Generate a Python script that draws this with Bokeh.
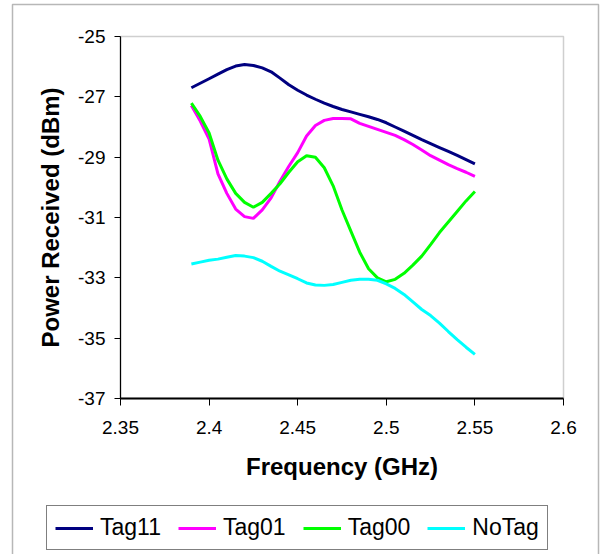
from bokeh.plotting import figure
from bokeh.models import (FixedTicker, CustomJSTickFormatter, Legend, LegendItem,
                          BoxAnnotation, Range1d)
from bokeh.embed import file_html
from bokeh.resources import INLINE

freq = [2.39, 2.395, 2.40, 2.405, 2.41, 2.415, 2.42, 2.425, 2.43, 2.435, 2.44,
        2.445, 2.45, 2.455, 2.46, 2.465, 2.47, 2.475, 2.48, 2.485, 2.49, 2.495,
        2.50, 2.505, 2.51, 2.515, 2.52, 2.525, 2.53, 2.535, 2.54, 2.545, 2.55]

tag11 = [-26.70, -26.55, -26.40, -26.25, -26.10, -25.98, -25.93, -25.96, -26.04,
         -26.17, -26.38, -26.60, -26.78, -26.94, -27.08, -27.21, -27.32, -27.42,
         -27.50, -27.58, -27.66, -27.75, -27.86, -28.00, -28.14, -28.28, -28.42,
         -28.55, -28.68, -28.81, -28.94, -29.08, -29.22]

tag01 = [-27.29, -27.80, -28.40, -29.55, -30.20, -30.72, -30.97, -31.03, -30.75,
         -30.35, -29.80, -29.30, -28.85, -28.30, -27.95, -27.78, -27.72, -27.72,
         -27.73, -27.88, -27.98, -28.08, -28.18, -28.28, -28.42, -28.58, -28.76,
         -28.95, -29.10, -29.25, -29.38, -29.50, -29.64]

tag00 = [-27.21, -27.65, -28.20, -29.10, -29.72, -30.20, -30.50, -30.66, -30.50,
         -30.20, -29.88, -29.50, -29.15, -28.95, -29.00, -29.35, -29.95, -30.75,
         -31.45, -32.15, -32.70, -33.00, -33.13, -33.05, -32.85, -32.58, -32.28,
         -31.90, -31.50, -31.15, -30.80, -30.45, -30.14]

notag = [-32.54, -32.48, -32.42, -32.38, -32.32, -32.26, -32.28, -32.33, -32.45,
         -32.62, -32.78, -32.90, -33.03, -33.17, -33.24, -33.25, -33.22, -33.15,
         -33.08, -33.05, -33.05, -33.08, -33.20, -33.35, -33.55, -33.80, -34.05,
         -34.25, -34.50, -34.78, -35.05, -35.30, -35.54]

series_names = ["Tag11", "Tag01", "Tag00", "NoTag"]
series_vals = [tag11, tag01, tag00, notag]
series_colors = ["#000080", "#FF00FF", "#00FF00", "#00FFFF"]

x_ticks = [2.35, 2.4, 2.45, 2.5, 2.55, 2.6]
y_ticks = [-37, -35, -33, -31, -29, -27, -25]

FONT = "Liberation Sans"

# layout (pixels on the canvas)
W, H = 601, 554
PL, PR, PT, PB = 120, 563, 36, 398      # plot area edges

xs = (x_ticks[-1] - x_ticks[0]) / (PR - PL)
ys = (y_ticks[-1] - y_ticks[0]) / (PB - PT)
x_range = Range1d(x_ticks[0] - PL * xs, x_ticks[-1] + (W - PR) * xs)
y_range = Range1d(y_ticks[0] - (H - PB) * ys, y_ticks[-1] + PT * ys)

p = figure(width=W, height=H, output_backend="svg", toolbar_location=None,
           x_range=x_range, y_range=y_range,
           min_border_left=0, min_border_right=0, min_border_top=0,
           min_border_bottom=0, min_border=0)
p.background_fill_color = "white"
p.border_fill_color = "white"
p.outline_line_color = None
p.xgrid.visible = False
p.ygrid.visible = False

# plot area box (top/right edges grey)
p.add_layout(BoxAnnotation(left=x_ticks[0], right=x_ticks[-1],
                           bottom=y_ticks[0], top=y_ticks[-1],
                           fill_alpha=0, line_color="#606060", line_width=1.5,
                           level="underlay"))

items = []
for name, vals, col in zip(series_names, series_vals, series_colors):
    r = p.line(freq, vals, line_color=col, line_width=3)
    items.append(LegendItem(label=name, renderers=[r]))

xa = p.xaxis[0]
xa.fixed_location = y_ticks[0]
xa.bounds = (x_ticks[0], x_ticks[-1])
xa.ticker = FixedTicker(ticks=x_ticks)
xa.formatter = CustomJSTickFormatter(code="return tick.toFixed(2).replace(/0$/, '');")
xa.minor_tick_line_color = None
xa.major_tick_out = 7
xa.major_tick_in = 0
xa.axis_line_width = 2
xa.axis_line_color = "black"
xa.major_tick_line_color = "black"
xa.major_label_text_font = FONT
xa.major_label_text_font_size = "19px"
xa.major_label_text_color = "black"
xa.major_label_standoff = 15
xa.axis_label = "Frequency (GHz)"
xa.axis_label_text_font = FONT
xa.axis_label_text_font_style = "bold"
xa.axis_label_text_font_size = "24px"
xa.axis_label_text_color = "black"
xa.axis_label_standoff = 16

ya = p.yaxis[0]
ya.fixed_location = x_ticks[0]
ya.bounds = (y_ticks[0], y_ticks[-1])
ya.ticker = FixedTicker(ticks=y_ticks)
ya.formatter = CustomJSTickFormatter(code="return String(tick);")
ya.minor_tick_line_color = None
ya.major_tick_out = 6
ya.major_tick_in = 0
ya.axis_line_width = 1.2
ya.axis_line_color = "black"
ya.major_tick_line_color = "black"
ya.major_label_text_font = FONT
ya.major_label_text_font_size = "19px"
ya.major_label_text_color = "black"
ya.major_label_standoff = 9
ya.axis_label = "Power Received (dBm)"
ya.axis_label_text_font = FONT
ya.axis_label_text_font_style = "bold"
ya.axis_label_text_font_size = "24px"
ya.axis_label_text_color = "black"
ya.axis_label_standoff = 11

legend = Legend(items=items, orientation="horizontal", location=(46, 4),
                glyph_width=38, glyph_height=20, label_standoff=7, spacing=17,
                padding=8, margin=0, label_text_font=FONT,
                label_text_font_size="23px", label_text_color="black",
                border_line_color="black", border_line_width=1,
                background_fill_color="white", background_fill_alpha=1)
p.add_layout(legend, "center")

# outer chart border
p.add_layout(BoxAnnotation(left=12, right=598, top=4, bottom=H + 20,
                           left_units="canvas", right_units="canvas",
                           top_units="canvas", bottom_units="canvas",
                           fill_alpha=0, line_color="#111111", line_width=1.5))

open("out.html", "w").write(file_html(p, INLINE))
